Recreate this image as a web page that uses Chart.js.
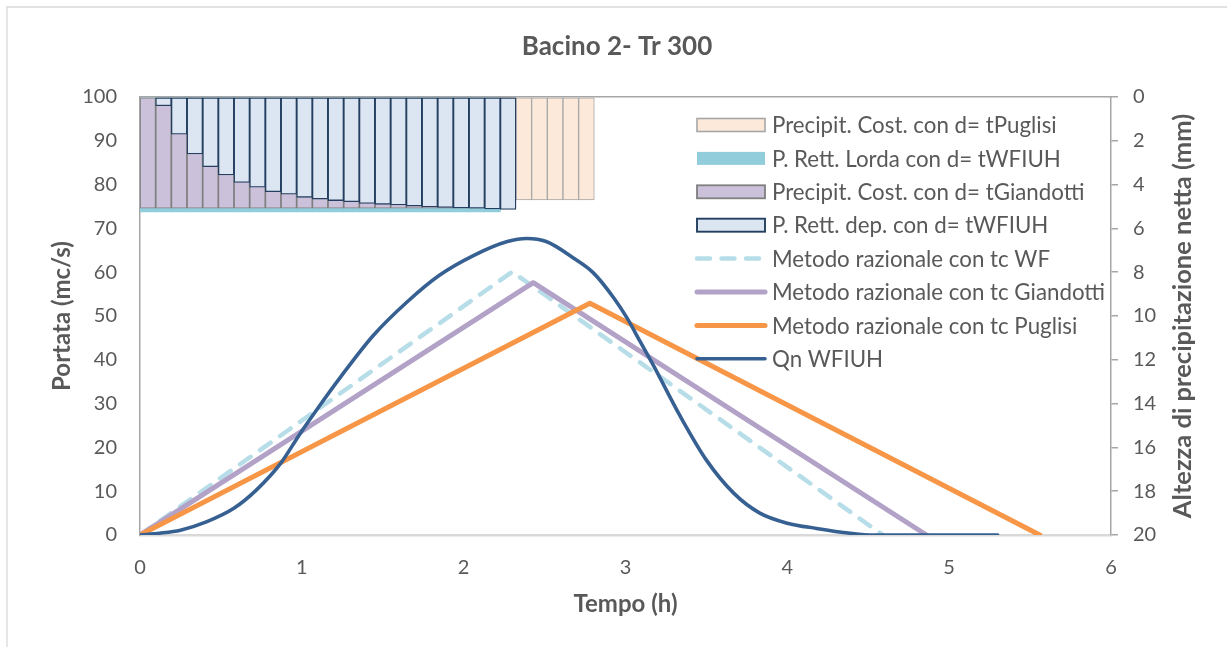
<!DOCTYPE html>
<html lang="it">
<head>
<meta charset="utf-8">
<title>Bacino 2- Tr 300</title>
<script src="https://cdn.jsdelivr.net/npm/chart.js@4.4.1/dist/chart.umd.min.js"></script>
<style>
  html, body { margin: 0; padding: 0; background: #fff; }
  #wrap { width: 1227px; height: 647px; }
</style>
</head>
<body>
<div id="wrap"><canvas id="idrogramma" width="1227" height="647"></canvas></div>
<script>
// centri degli intervalli di pioggia (h)
const tempiPioggia = [0.0484, 0.1452, 0.2420, 0.3388, 0.4356, 0.5324, 0.6292, 0.7260, 0.8228, 0.9196,
  1.0164, 1.1132, 1.2100, 1.3068, 1.4036, 1.5004, 1.5972, 1.6940, 1.7908, 1.8876,
  1.9844, 2.0812, 2.1780, 2.2748, 2.3716, 2.4684, 2.5652, 2.6620, 2.7588];

// altezze di pioggia per intervallo (mm)
const pioggiaPuglisi = [4.70, 4.70, 4.70, 4.70, 4.70, 4.70, 4.70, 4.70, 4.70, 4.70,
  4.70, 4.70, 4.70, 4.70, 4.70, 4.70, 4.70, 4.70, 4.70, 4.70,
  4.70, 4.70, 4.70, 4.70, 4.70, 4.70, 4.70, 4.70, 4.70];
const pioggiaLordaWF = [5.25, 5.25, 5.25, 5.25, 5.25, 5.25, 5.25, 5.25, 5.25, 5.25,
  5.25, 5.25, 5.25, 5.25, 5.25, 5.25, 5.25, 5.25, 5.25, 5.25,
  5.25, 5.25, 5.25];
const pioggiaGiandotti = [5.08, 5.08, 5.08, 5.08, 5.08, 5.08, 5.08, 5.08, 5.08, 5.08,
  5.08, 5.08, 5.08, 5.08, 5.08, 5.08, 5.08, 5.08, 5.08, 5.08,
  5.08, 5.08, 5.08, 5.08];
const pioggiaNettaWF = [0, 0.40, 1.70, 2.60, 3.18, 3.56, 3.90, 4.12, 4.32, 4.44,
  4.58, 4.66, 4.73, 4.78, 4.86, 4.90, 4.93, 4.98, 5.02, 5.04,
  5.07, 5.08, 5.11, 5.13];

// metodo razionale: idrogrammi triangolari
const wfTempo = [0, 2.30, 4.59];
const wfPortata = [0, 60.1, 0];
const giandottiTempo = [0, 2.43, 4.86];
const giandottiPortata = [0, 57.6, 0];
const puglisiTempo = [0, 2.78, 5.56];
const puglisiPortata = [0, 52.9, 0];

// idrogramma di piena WFIUH
const qnTempo = [0, 0.12, 0.25, 0.41, 0.58, 0.72, 0.87, 0.99, 1.09, 1.24,
  1.44, 1.65, 1.85, 2.06, 2.27, 2.39, 2.51, 2.68, 2.80, 2.93,
  3.01, 3.09, 3.17, 3.34, 3.50, 3.67, 3.83, 4.00, 4.18, 4.39,
  4.53, 5.30];
const qnPortata = [0, 0.4, 1.1, 3.0, 6.1, 10.3, 16.4, 23.2, 28.5, 36.1,
  45.5, 53.2, 59.3, 63.8, 67.0, 67.7, 67.0, 63.2, 59.9, 54.0,
  49.5, 44.2, 38.9, 27.0, 17.1, 9.5, 5.0, 2.7, 1.5, 0.4,
  0, 0];

const tickTempo = [0, 1, 2, 3, 4, 5, 6];
const tickPortata = [0, 10, 20, 30, 40, 50, 60, 70, 80, 90, 100];
const tickPioggia = [0, 2, 4, 6, 8, 10, 12, 14, 16, 18, 20];

const FONT = 'Lato, "Open Sans", sans-serif';
const GRIGIO_TESTO = '#595959';

const punti = (xs, ys) => ys.map((y, i) => ({ x: xs[i], y: y }));
const barre = (ys) => ys.map((y, i) => ({ x: tempiPioggia[i], y: y }));

const barOpts = {
  type: 'bar',
  xAxisID: 'x',
  yAxisID: 'y2',
  grouped: false,
  categoryPercentage: 1,
  barPercentage: 1,
  borderSkipped: false
};
const lineOpts = {
  type: 'line',
  xAxisID: 'x',
  yAxisID: 'y',
  pointRadius: 0,
  fill: false,
  borderCapStyle: 'round',
  borderJoinStyle: 'round'
};

// cornice esterna del grafico
const cornice = {
  id: 'cornice',
  beforeDraw(chart) {
    const { ctx, width, height } = chart;
    ctx.save();
    ctx.strokeStyle = '#d9d9d9';
    ctx.lineWidth = 1.3;
    ctx.beginPath();
    ctx.moveTo(7, height);
    ctx.lineTo(7, 7);
    ctx.lineTo(width, 7);
    ctx.stroke();
    ctx.restore();
  }
};

// titolo dell'asse secondario, letto dal basso verso l'alto
const titoloAsseDx = {
  id: 'titoloAsseDx',
  afterDraw(chart) {
    const s = chart.scales.y2;
    const { ctx } = chart;
    ctx.save();
    ctx.translate(s.right - 44, (s.top + s.bottom) / 2);
    ctx.rotate(-Math.PI / 2);
    ctx.font = 'bold 25.5px ' + FONT;
    ctx.fillStyle = GRIGIO_TESTO;
    ctx.textAlign = 'center';
    ctx.textBaseline = 'middle';
    ctx.fillText('Altezza di precipitazione netta (mm)', 0, 0);
    ctx.restore();
  }
};

// legenda dentro l'area del grafico
const legenda = {
  id: 'legenda',
  afterDraw(chart) {
    const { ctx } = chart;
    const x = 697, w = 68, testoX = 772, passo = 33.4;
    let y = 125;
    ctx.save();
    ctx.font = '22.3px ' + FONT;
    ctx.textBaseline = 'middle';
    chart.data.datasets.forEach((ds) => {
      if (ds.type === 'bar') {
        ctx.fillStyle = ds.backgroundColor;
        ctx.fillRect(x, y - 6.5, w, 13);
        if (ds.borderWidth) {
          ctx.strokeStyle = ds.borderColor;
          ctx.lineWidth = ds.borderWidth + 0.6;
          ctx.strokeRect(x, y - 6.5, w, 13);
        }
      } else {
        ctx.beginPath();
        ctx.setLineDash(ds.borderDash || []);
        ctx.lineCap = 'round';
        ctx.strokeStyle = ds.borderColor;
        ctx.lineWidth = ds.borderWidth;
        ctx.moveTo(x, y);
        ctx.lineTo(x + w, y);
        ctx.stroke();
        ctx.setLineDash([]);
      }
      ctx.fillStyle = GRIGIO_TESTO;
      ctx.fillText(ds.label, testoX, y + 1);
      y += passo;
    });
    ctx.restore();
  }
};

Chart.defaults.font.family = FONT;
Chart.defaults.color = GRIGIO_TESTO;

new Chart(document.getElementById('idrogramma'), {
  type: 'line',
  data: {
    datasets: [
      Object.assign({}, barOpts, {
        label: 'Precipit. Cost. con d= tPuglisi',
        data: barre(pioggiaPuglisi),
        backgroundColor: '#fde9d9',
        borderColor: '#a6a6a6',
        borderWidth: 1,
        order: 7
      }),
      Object.assign({}, barOpts, {
        label: 'P. Rett. Lorda con d= tWFIUH',
        data: barre(pioggiaLordaWF),
        backgroundColor: '#92cddc',
        borderWidth: 0,
        order: 6
      }),
      Object.assign({}, barOpts, {
        label: 'Precipit. Cost. con d= tGiandotti',
        data: barre(pioggiaGiandotti),
        backgroundColor: '#ccc1da',
        borderColor: '#7f7f7f',
        borderWidth: 1.2,
        order: 5
      }),
      Object.assign({}, barOpts, {
        label: 'P. Rett. dep. con d= tWFIUH',
        data: barre(pioggiaNettaWF),
        backgroundColor: '#dce6f2',
        borderColor: '#243f60',
        borderWidth: 1.3,
        order: 4
      }),
      Object.assign({}, lineOpts, {
        label: 'Metodo razionale con tc WF',
        data: punti(wfTempo, wfPortata),
        borderColor: '#b7dee8',
        borderWidth: 4.5,
        borderDash: [13, 11.5],
        order: 3
      }),
      Object.assign({}, lineOpts, {
        label: 'Metodo razionale con tc Giandotti',
        data: punti(giandottiTempo, giandottiPortata),
        borderColor: '#b3a2c7',
        borderWidth: 5,
        order: 2
      }),
      Object.assign({}, lineOpts, {
        label: 'Metodo razionale con tc Puglisi',
        data: punti(puglisiTempo, puglisiPortata),
        borderColor: '#f79646',
        borderWidth: 5,
        order: 1
      }),
      Object.assign({}, lineOpts, {
        label: 'Qn WFIUH',
        data: punti(qnTempo, qnPortata),
        borderColor: '#376092',
        borderWidth: 3.6,
        cubicInterpolationMode: 'monotone',
        order: 0
      })
    ]
  },
  options: {
    responsive: false,
    animation: false,
    events: [],
    layout: { padding: { left: 7, right: 0, top: 0, bottom: 0 } },
    plugins: {
      legend: { display: false },
      tooltip: { enabled: false },
      title: {
        display: true,
        text: 'Bacino 2- Tr 300',
        color: GRIGIO_TESTO,
        font: { size: 26, weight: 'bold' },
        padding: { top: 31.4, bottom: 34.4 }
      }
    },
    scales: {
      x: {
        type: 'linear',
        position: 'bottom',
        min: 0,
        max: 6,
        offset: false,
        afterBuildTicks: (s) => { s.ticks = tickTempo.map((v) => ({ value: v })); },
        grid: { display: false, drawTicks: false, offset: false },
        border: { color: '#d9d9d9', width: 2.5 },
        ticks: { font: { size: 20 }, padding: 21 },
        title: {
          display: true,
          text: 'Tempo (h)',
          font: { size: 24, weight: 'bold' },
          padding: { top: 0, bottom: 28 }
        },
        afterFit: (s) => { s.height = 112; }
      },
      x2: {
        type: 'linear',
        position: 'top',
        min: 0,
        max: 6,
        offset: false,
        ticks: { display: false },
        grid: { display: false, drawTicks: false, offset: false },
        border: { color: '#a6a6a6', width: 1.5 },
        afterFit: (s) => { s.height = 0; }
      },
      y: {
        type: 'linear',
        position: 'left',
        min: 0,
        max: 100,
        afterBuildTicks: (s) => { s.ticks = tickPortata.map((v) => ({ value: v })); },
        grid: { display: false, drawTicks: false },
        border: { color: '#a6a6a6', width: 1.5 },
        ticks: { font: { size: 20 }, padding: 23 },
        title: {
          display: true,
          text: 'Portata (mc/s)',
          font: { size: 24, weight: 'bold' },
          padding: { top: 41, bottom: 0 }
        },
        afterFit: (s) => { s.width = 133; }
      },
      y2: {
        type: 'linear',
        position: 'right',
        min: 0,
        max: 20,
        reverse: true,
        afterBuildTicks: (s) => { s.ticks = tickPioggia.map((v) => ({ value: v })); },
        grid: {
          display: true,
          drawOnChartArea: false,
          drawTicks: true,
          tickLength: 7,
          color: '#a6a6a6',
          lineWidth: 1.5
        },
        border: { color: '#a6a6a6', width: 1.5 },
        ticks: { font: { size: 20 }, padding: 15 },
        afterFit: (s) => { s.width = 116; }
      }
    }
  },
  plugins: [cornice, titoloAsseDx, legenda]
});
</script>
</body>
</html>
